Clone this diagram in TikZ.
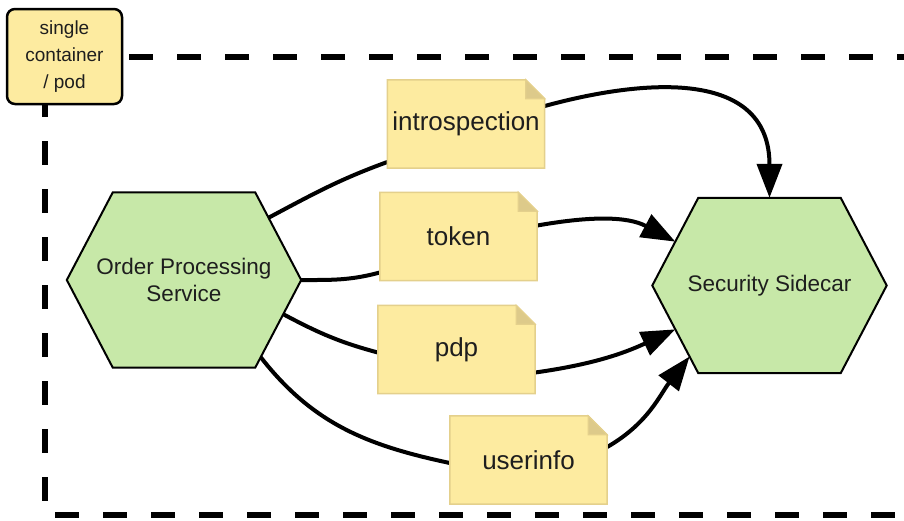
\documentclass[tikz,border=0pt]{standalone}
\usepackage{fontspec}
\setmainfont{Liberation Sans}
\usetikzlibrary{arrows.meta,calc}
\definecolor{hexgreen}{HTML}{C7E8A8}
\definecolor{noteyellow}{HTML}{FDEBA0}
\definecolor{noteborder}{HTML}{E4D08C}
\definecolor{notefold}{HTML}{DDCA8A}
\definecolor{textc}{HTML}{1E1E1E}
\pgfdeclarelayer{bg}
\pgfdeclarelayer{mid}
\pgfsetlayers{bg,mid,main}
\begin{document}
\begin{tikzpicture}[x=1pt,y=-1pt,
  hexbox/.style={rectangle, minimum width=234pt, minimum height=175pt, inner sep=0pt,
    align=center, font=\fontsize{22.5}{26.5}\selectfont, text=textc},
  hexshape/.style={fill=hexgreen, draw=black, line width=2pt, line join=miter},
  notebox/.style={rectangle, minimum width=157pt, minimum height=88pt, inner sep=0pt,
    font=\fontsize{26}{30}\selectfont, text=textc},
  notebody/.style={fill=noteyellow, draw=noteborder, line width=1.5pt},
  notefoldst/.style={fill=notefold, draw=noteborder, line width=1.2pt},
  labelbox/.style={rectangle, rounded corners=8pt, fill=noteyellow, draw=black,
    line width=2.5pt, minimum width=115pt, minimum height=95pt, inner sep=0pt,
    align=center, font=\fontsize{19}{27}\selectfont, text=textc},
  dashline/.style={line width=5.5pt, black, dash pattern=on 24pt off 24pt},
  conn/.style={line width=4pt, black},
  arr/.style={conn, -{Triangle[length=34pt,width=25pt]}}
]
\useasboundingbox (0,0) rectangle (904,520);

% container boundary
\begin{pgfonlayer}{bg}
\begin{scope}
\clip (0,0) rectangle (904,520);
\draw[dashline] (921,57) -- (45,57) -- (45,515) -- (940,515);
\end{scope}
\end{pgfonlayer}

\node[labelbox] (lbl) at (64.5,56.5) {single\\container\\/ pod};

% hexagons
\node[hexbox] (ops) at (184,280) {Order Processing\\Service};
\node[hexbox] (sc) at (769.5,285.5) {Security Sidecar};
\foreach \h in {ops,sc} {
  \coordinate (\h-nw) at ([xshift=46pt]\h.north west);
  \coordinate (\h-ne) at ([xshift=-46pt]\h.north east);
  \coordinate (\h-se) at ([xshift=-46pt]\h.south east);
  \coordinate (\h-sw) at ([xshift=46pt]\h.south west);
}
\begin{pgfonlayer}{mid}
\foreach \h in {ops,sc}
  \draw[hexshape] (\h.west) -- (\h-nw) -- (\h-ne) -- (\h.east) -- (\h-se) -- (\h-sw) -- cycle;
\end{pgfonlayer}

% notes
\node[notebox] (intro) at (466,124) {introspection};
\node[notebox] (token) at (458.5,236.5) {token};
\node[notebox] (pdp) at (456.5,349.5) {pdp};
\node[notebox] (user) at (528.5,460) {userinfo};
\begin{pgfonlayer}{mid}
\foreach \n in {intro,token,pdp,user} {
  \draw[notebody] (\n.south west) -- (\n.north west) -- ([xshift=-19pt]\n.north east)
    -- ([yshift=-19pt]\n.north east) -- (\n.south east) -- cycle;
  \draw[notefoldst] ([xshift=-19pt]\n.north east) -- ([xshift=-19pt,yshift=-19pt]\n.north east)
    -- ([yshift=-19pt]\n.north east) -- cycle;
}
\end{pgfonlayer}

% connectors
\begin{pgfonlayer}{bg}
\draw[conn] ($(ops-ne)!0.29!(ops.east)$) to[out=28,in=200] ([yshift=-38pt]intro.west);
\draw[arr] ([yshift=18pt]intro.east) .. controls +(110,-30) and +(0,-125) .. (sc.north);
\draw[conn] (ops.east) to[out=0,in=195] ([yshift=-36pt]token.west);
\draw[arr] ([yshift=11pt]token.east) to[out=10,in=152] ($(sc.west)!0.5!(sc-nw)$);
\draw[conn] ($(ops.east)!0.39!(ops-se)$) to[out=-28,in=165] ([yshift=-3pt]pdp.west);
\draw[arr] ([yshift=-23pt]pdp.east) to[out=8,in=205] ($(sc.west)!0.5!(sc-sw)$);
\draw[conn] ($(ops.east)!0.88!(ops-se)$) to[out=-52,in=168] ([yshift=-3pt]user.west);
\draw[arr] ([yshift=13pt]user.east) to[out=30,in=232] ($(sc.west)!0.81!(sc-sw)$);
\end{pgfonlayer}
\end{tikzpicture}
\end{document}
